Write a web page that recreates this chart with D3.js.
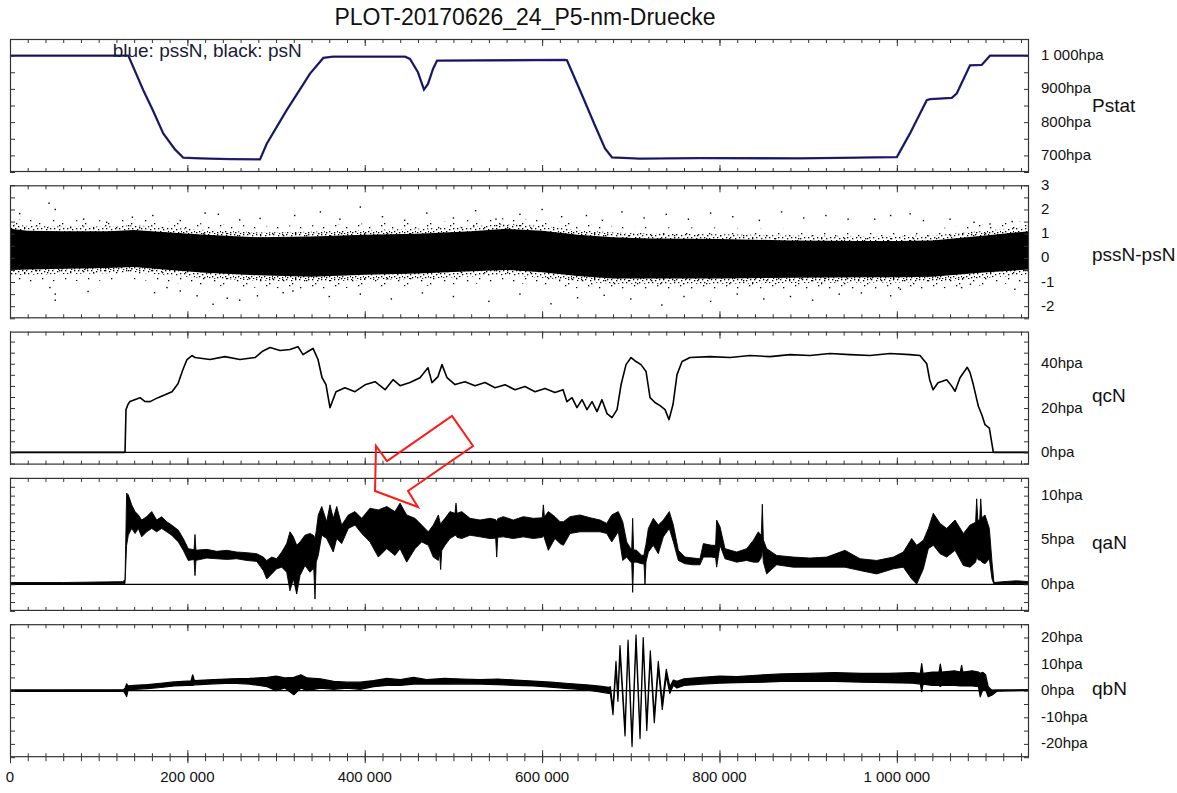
<!DOCTYPE html>
<html><head><meta charset="utf-8">
<script src="https://cdn.jsdelivr.net/npm/d3@7"></script>
<style>
body{margin:0;background:#fff}
svg{display:block}
text{font-family:"Liberation Sans",Arial,Helvetica,sans-serif}
</style>
</head><body>
<svg id="c" width="1177" height="793"></svg>
<script>
// ---------------- DATA ----------------
const title = "PLOT-20170626_24_P5-nm-Druecke";
const legendText = "blue: pssN, black: psN";
const panelNames = ["Pstat", "pssN-psN", "qcN", "qaN", "qbN"];

// x in thousands of samples
const xDomain = [0, 1149];
const xMajorTicks = [0, 200, 400, 600, 800, 1000];
const xTickLabels = ["0", "200 000", "400 000", "600 000", "800 000", "1 000 000"];
const xMinorStep = 20;

// panel 1: Pstat
const pstatTicks = [700, 800, 900, 1000];
const pstatLabels = ["700hpa", "800hpa", "900hpa", "1 000hpa"];
const pstatX = [0,133.4,150.3,161.2,172.8,186,195.4,214,248,281.9,289.5,312,338.3,353.3,364.2,445.4,451,460,466.8,471.3,477,481.5,625.8,628,642.7,659.6,670.9,678.8,710,778,890.8,1000,1014.8,1033.7,1037.4,1061.9,1067.5,1082.5,1095.7,1105,1149];
const pssN = [1000,1000,896,835,766,718,693,691,689,688,735,836,946,993,997,997,990,950,898,915,960,985,987,986,896,790,721,694,690,692,691,695,766,866,869,873,886,971,972,1000,1000];
const psN  = [1000,1000,896,835,766,718,693,691,689,688,735,836,946,993,997,997,990,950,898,915,960,985,987,986,896,790,721,694,690,692,691,695,766,866,869,873,886,971,972,1000,1000];

// panel 2: pssN-psN (dense scatter: solid core, dotted fuzz, sparse halo, outliers)
const diffTicks = [-2, -1, 0, 1, 2, 3];
const diffLabels = ["-2", "-1", "0", "1", "2", "3"];
const bandX  = [0,20,60,110,140,180,220,280,340,400,460,520,560,600,640,680,720,800,880,960,1000,1040,1094,1149];
const bandHi = [1.2,1.12,1.1,1.1,1.15,1.05,0.95,0.85,0.88,0.95,1.0,1.1,1.2,1.12,0.95,0.85,0.8,0.78,0.72,0.7,0.7,0.72,0.9,1.1];
const bandLo = [-0.5,-0.48,-0.45,-0.42,-0.38,-0.5,-0.62,-0.72,-0.78,-0.7,-0.65,-0.55,-0.5,-0.6,-0.75,-0.85,-0.85,-0.85,-0.82,-0.8,-0.8,-0.78,-0.62,-0.48];
const fuzzHi = [1.4,1.32,1.3,1.3,1.35,1.25,1.15,1.05,1.08,1.15,1.2,1.3,1.4,1.32,1.15,1.05,1.0,0.98,0.92,0.9,0.9,0.92,1.1,1.3];
const fuzzLo = [-0.72,-0.7,-0.67,-0.64,-0.6,-0.72,-0.84,-0.94,-1.0,-0.92,-0.87,-0.77,-0.72,-0.82,-0.97,-1.07,-1.07,-1.07,-1.04,-1.02,-1.02,-1.0,-0.84,-0.7];
const haloHi = [1.65,1.58,1.55,1.55,1.6,1.5,1.42,1.32,1.35,1.42,1.47,1.57,1.65,1.58,1.42,1.32,1.27,1.25,1.2,1.18,1.18,1.2,1.37,1.55];
const haloLo = [-1.02,-1.0,-0.97,-0.94,-0.9,-1.02,-1.14,-1.24,-1.3,-1.22,-1.17,-1.07,-1.02,-1.12,-1.27,-1.37,-1.37,-1.37,-1.34,-1.32,-1.32,-1.3,-1.14,-1.0];
const outX = [11,44,51,83,109,138,161,192,220,235,259,282,321,350,372,395,420,445,470,500,525,548,575,600,622,650,668,690,715,740,765,790,815,845,870,895,920,945,975,993,1015,1030,1060,1087,1105,1130,
              0,45,51,51,88,163,177,192,211,229,245,259,279,308,319,360,395,430,465,500,540,575,610,640,670,700,735,760,790,820,850,880,905,935,960,993,1004,1073,1083,1133];
const outV = [1.83,2.26,2.0,1.6,1.47,1.68,1.75,1.54,1.85,1.8,1.57,1.63,1.75,1.9,1.6,2.1,1.7,1.55,1.85,1.65,1.95,1.6,1.8,2.0,1.7,1.75,1.55,1.9,1.65,1.8,1.6,1.85,1.7,1.55,1.9,1.65,1.75,1.6,1.6,1.75,1.82,1.54,1.6,1.47,1.4,1.5,
              -0.95,-1.23,-1.5,-1.75,-1.39,-1.44,-1.23,-1.37,-1.57,-1.92,-1.67,-1.75,-1.57,-1.44,-1.37,-1.6,-1.5,-1.7,-1.45,-1.6,-1.8,-1.5,-1.9,-1.65,-1.55,-1.7,-1.95,-1.6,-1.8,-1.5,-1.7,-1.6,-1.75,-1.5,-1.45,-1.57,-1.3,-1.23,-1.09,-1.3];

// panel 3: qcN
const qcTicks = [0, 20, 40];
const qcLabels = ["0hpa", "20hpa", "40hpa"];
const qcX = [0,129.7,130.8,133,135.3,146.6,152,157.9,166.9,174.8,182.7,189.4,195,199.6,205.2,208.6,225.5,242.4,259.3,276.3,284.2,293.2,304.5,315.7,324.7,330.4,336,341.7,347.3,351.8,356.3,360.8,367.6,377.7,389,400.3,411.6,422.9,431.9,439.8,451,462.3,471.3,475.8,482.6,487.1,492.8,501.8,513,524.3,535.6,546.9,558.2,569.4,580.7,592,603.3,614.5,623.6,628,633.7,639.3,645,650.6,656.3,661.9,667.5,673.2,678.8,684.5,689,694.6,700.3,705.9,711.5,717.2,721.7,727.3,733,738.6,743.1,747.6,752.1,757.8,766.8,789.3,811.9,834.4,857,879.5,902,924.6,947.2,969.7,992.3,1014.8,1026.1,1033.7,1037,1040.8,1046.4,1056.2,1061.9,1065.6,1071.2,1079.4,1082.5,1086.2,1091.9,1095.7,1099.4,1104.3,1108.8,1149];
const qcV = [0,0,19.3,21.6,23,24.7,23,22.9,24.7,26,27.4,31,37.4,41.9,43.7,42.8,41.9,43.2,41.9,42.8,45.5,47.3,46,46.4,47.7,44.1,45.5,46.9,41.9,33.8,30.6,20.2,27.4,29.2,27.4,30.5,31.9,28.3,32.8,30.1,31.5,33.7,38.2,31.5,34.2,39.6,33.7,30.6,31.9,30.1,31.5,29.2,30.5,28.3,29.7,27.4,28.8,27,28.3,22.9,24.7,20.2,23.8,19.3,22.9,18.4,23.8,17.5,15.7,19.3,30.5,39.6,42.8,41,39.6,36.5,24.7,22.5,21.1,19.3,14.8,21.6,35.1,41,42.8,43.2,42.8,43.7,43.2,44.1,43.7,44.6,44.1,43.7,44.6,44.1,43.7,40,32.8,28.3,31.4,32.8,29.9,27.6,33.7,38.4,36,30.6,20.8,17.1,12.5,11,0,0];

// panel 4: qaN, noisy signal read as rows [x, low, high]
const qaTicks = [0, 5, 10];
const qaLabels = ["0hpa", "5hpa", "10hpa"];
const qaRows = [
 [0,0,0.2],[60,0,0.2],[127,0.05,0.3],[129.7,0.1,0.5],[131.5,4.4,10.28],[133.4,5.54,10.09],[137.2,6.3,8.96],[141,5.73,8.2],[144.7,6.3,7.82],[148.5,5.35,7.25],
 [154.1,5.92,7.63],[159.8,6.3,8.2],[165.4,5.92,7.25],[171,6.3,7.63],[176.7,5.92,7.06],[182.3,5.54,6.68],[189.8,4.78,6.11],[195.4,3.83,5.16],[201,2.69,4.02],[207.5,2.8,3.9],
 [208.6,0.98,5.62],[209.7,2.7,3.85],[221.8,2.96,3.94],[233.1,2.88,3.72],[244.4,2.81,3.83],[255.6,2.88,3.64],[266.9,2.69,3.57],[278.2,2.58,3.45],[285.6,1.55,3.07],[289.5,0.6,2.69],
 [295.1,1.17,3.07],[300.7,1.74,2.88],[306.4,1.93,3.64],[312,1.36,4.59],[315.7,-0.73,5.92],[319.5,0.6,5.35],[323.3,-1.1,4.4],[327,0.98,4.78],[332.6,2.12,5.54],[338.3,1.36,5.73],
 [342.5,1.8,5.5],[343.9,-1.67,5.16],[345.3,2.5,6.0],[347.6,3.26,7.82],[351.5,5.54,8.77],[357.1,5.16,7.06],[360.8,4.4,8.96],[364.5,3.64,7.44],[368.4,5.16,8.77],[374,4.59,6.68],
 [381.5,6.3,7.82],[389,6.68,8.2],[396.6,5.73,7.44],[405.9,4.78,8.58],[415.3,3.07,8.39],[424.8,4.02,8.77],[434.1,3.26,8.2],[439.8,4.02,9.15],[447.3,2.5,7.82],[456.7,4.02,7.44],
 [464.2,4.78,6.68],[471.7,4.4,5.92],[477.3,3.07,6.68],[483,2.69,7.82],[484.4,3.5,7.2],[485.6,1.67,6.68],[486.8,3.8,7.0],[490.5,4.4,7.44],[496.1,5.16,8.2],[501.7,5.5,8.0],
 [502.9,5.54,9.15],[504.1,5.3,8.0],[509.3,5.16,8.2],[518.7,5.54,7.44],[530,5.35,7.25],[541.2,5.16,7.44],[547.6,5.2,7.3],[548.8,3.07,7.06],[550,5.3,7.4],[556.3,5.35,7.63],
 [567.5,5.16,7.25],[578.8,5.35,7.63],[590.1,5.16,7.44],[600.2,5.3,7.5],[601.4,5.54,8.96],[602.6,5.2,7.6],[607,3.83,8.2],[614.5,5.16,7.63],[620.2,4.59,7.06],[624,4.4,7.06],
 [631.5,5.73,7.63],[642.7,5.92,7.82],[654,5.92,7.51],[665.3,5.92,7.25],[672.8,5.73,6.87],[678.5,4.78,7.82],[685.9,5.92,8.2],[690.9,2.69,7.06],[695.4,3.07,4.78],[699.9,2.5,4.02],
 [701,2.5,4.0],[702.1,-0.91,7.44],[703.2,2.5,3.9],[706.6,2.5,3.83],[712.3,2.31,3.26],[714.9,2.3,3.3],[716,0.03,4.02],[717.1,2.5,4.5],[719.8,3.64,6.3],[725.4,4.4,7.44],
 [731,3.45,6.68],[736.7,5.35,7.25],[743.4,6.3,8.2],[748,4.78,6.68],[753.6,2.69,3.83],[761.1,2.31,3.07],[770.5,2.2,2.96],[778,2.2,2.88],[781.8,3.07,4.59],[791.2,3.07,4.4],
 [795.6,3.0,4.4],[796.8,1.93,7.25],[800.6,4.4,6.49],[806.2,2.88,4.02],[819.4,2.5,3.64],[830.6,2.69,4.02],[838.2,2.5,4.97],[843.8,2.5,5.92],[847.1,3.0,5.5],[848.3,4.02,9.03],
 [849.5,2.5,5.0],[853.2,1.17,4.02],[864.5,2.2,3.26],[883.2,1.93,3.07],[902,1.93,2.96],[920.9,1.93,3.07],[941.5,1.93,3.83],[958.5,1.55,2.88],[977.3,1.17,2.69],[996,1.74,3.07],
 [1007.3,1.93,3.64],[1016.7,0.6,5.16],[1022.4,0.03,4.4],[1029.9,1.74,4.97],[1035.5,4.02,6.3],[1041.1,4.4,8.01],[1048.7,3.45,6.87],[1056.2,3.07,6.3],[1065.6,3.83,7.25],[1075,2.12,5.73],
 [1082.5,1.93,6.68],[1088.8,2.5,7.0],[1090,3.07,9.64],[1091.3,2.8,7.2],[1093.4,2.7,7.3],[1094.6,2.69,9.64],[1095.8,2.5,7.5],[1099.4,2.31,7.82],[1104.3,2.88,6.3],[1107.3,0.6,2.5],
 [1109.5,0,0.2],[1120,0.05,0.3],[1135,0.1,0.4],[1149,0.1,0.3]
];

// panel 5: qbN, noisy signal read as rows [x, low, high]
const qbTicks = [-20, -10, 0, 10, 20];
const qbLabels = ["-20hpa", "-10hpa", "0hpa", "10hpa", "20hpa"];
const qbRows = [
 [0,-0.3,0.3],[128,-0.2,0.4],[130,-1.2,1.0],[131.5,-2.2,2.6],[133,0,1.8],[140,0.5,2.0],[155,0.8,2.3],[170,1.2,2.8],[185,1.8,3.3],[200,2.0,3.6],
 [204,2.0,3.6],[206,2.0,6.0],[208,2.2,3.8],[230,2.6,4.2],[250,2.8,4.5],[270,2.5,4.6],[290,1.5,5.0],[300,0,5.5],[310,1.0,4.8],[320,-1.5,5.0],
 [328,1.0,6.0],[335,0,4.8],[350,1.0,4.5],[365,0.5,3.5],[380,1.0,3.2],[395,0.5,3.2],[410,1.5,3.8],[425,2.0,4.6],[440,2.0,4.2],[455,2.5,5.0],
 [470,2.5,4.2],[490,2.5,4.6],[510,2.6,4.4],[530,2.5,4.2],[550,2.3,4.4],[570,2.0,4.0],[590,1.8,3.6],[610,1.3,3.2],[630,0.8,2.7],[650,0.3,2.2],
 [665,-0.5,1.7],[675,-1.0,1.3],[677,-1,1.5],[679.9,-9,-6.5],[683.3,8.5,11],[685.5,-4,-1.5],[687.8,14.5,17],[693.5,-17,-14.5],[696.9,16.5,19],[701.4,-21,-18.5],
 [705.9,18.5,21],[710.4,-18,-15.5],[714,17.5,20],[718,-15,-12.5],[722,12.5,15],[726.5,-12,-9.5],[731,8.5,11],[735.5,-7,-4.5],[740,5.5,8],[744,-1,1.5],
 [748,2,4],[752,1,3.5],[760,2,4.5],[780,2.5,5],[800,2.8,5.5],[820,3,5.3],[850,3.2,6],[870,3.5,6.3],[900,3.5,6.5],[930,3.5,6.8],
 [960,3.2,6.5],[990,3,6.5],[1018,2.8,6.8],[1026.5,2.5,6.5],[1028,-0.4,10.2],[1029.5,2.5,6.5],[1040,2,7],[1047.5,2,7],[1049,1.6,10],[1050.5,2,7],
 [1065,2,7.5],[1071.5,1.8,7],[1073,1.8,9.5],[1074.5,1.8,7],[1085,1.8,7.5],[1092,1.5,7],[1094,-2.3,6.5],[1097,0.5,6.9],[1100,0.5,6.0],[1103,-2.3,1.5],
 [1107,-1.7,0.2],[1113,-0.2,0.3],[1149,0.1,0.4]
];

// annotation arrow, in (x [thousands], qaN value) coordinates
const arrowX = [411.6, 412.7, 425.1, 498.4, 522.1, 448.8, 460];
const arrowV = [10.52, 15.6, 13.9, 19.0, 15.6, 10.52, 8.72];

// ---------------- LAYOUT ----------------
const L = 10, R = 1029, PH = 133;
const tops = [39, 185.3, 331.6, 477.9, 624.2];
const domains = [[650, 1050], [-2.5, 3], [-5.5, 54.5], [-3, 12], [-25, 25]];
const minorSteps = [50, 0.5, 5, 1, 5];
const nameOffsets = [73, 75.7, 70.5, 71.5, 71];
const tickSets = [pstatTicks, diffTicks, qcTicks, qaTicks, qbTicks];
const labelSets = [pstatLabels, diffLabels, qcLabels, qaLabels, qbLabels];

const svg = d3.select("#c");
const x = d3.scaleLinear().domain(xDomain).range([L, R]);
const ys = domains.map((d, i) => d3.scaleLinear().domain(d).range([tops[i] + PH, tops[i]]));

// patterns for the scatter fuzz
const defs = svg.append("defs");
const pDense = defs.append("pattern").attr("id", "dense").attr("patternUnits", "userSpaceOnUse").attr("width", 13).attr("height", 9);
[[0,0],[5,1],[9,0],[2,3],[7,4],[11,3],[4,6],[9,7],[1,7],[12,6],[6,8]].forEach(p => pDense.append("rect").attr("x", p[0]).attr("y", p[1]).attr("width", 1.3).attr("height", 1.3).attr("fill", "#000"));
const pSparse = defs.append("pattern").attr("id", "sparse").attr("patternUnits", "userSpaceOnUse").attr("width", 23).attr("height", 15);
[[1,2],[13,0],[19,8],[7,10],[16,13]].forEach(p => pSparse.append("rect").attr("x", p[0]).attr("y", p[1]).attr("width", 1.3).attr("height", 1.3).attr("fill", "#000"));

const minorVals = (d, s) => d3.range(Math.ceil(d[0] / s - 1e-9) * s, d[1] + 1e-9, s);
const xMinor = d3.range(xDomain[0], xDomain[1] + 1e-9, xMinorStep);

function styleAxis(g) {
  g.select(".domain").remove();
  g.selectAll(".tick line").attr("stroke", "#333").attr("stroke-width", 1);
  g.selectAll(".tick text").remove();
}

ys.forEach((y, i) => {
  const g = svg.append("g");
  const top = tops[i], bot = tops[i] + PH;
  const clipId = "clip" + i;
  defs.append("clipPath").attr("id", clipId).append("rect").attr("x", L).attr("y", top).attr("width", R - L).attr("height", PH);
  const plot = g.append("g").attr("clip-path", `url(#${clipId})`);

  if (i === 0) {
    const line = d3.line().x((d, k) => x(pstatX[k])).y(d => y(d));
    plot.append("path").attr("d", line(pssN)).attr("fill", "none").attr("stroke", "#2a2a9a").attr("stroke-width", 2.3);
    plot.append("path").attr("d", line(psN)).attr("fill", "none").attr("stroke", "#10102a").attr("stroke-width", 1.1).attr("opacity", 0.8);
  } else if (i === 1) {
    const area = (hi, lo) => d3.area().x((d, k) => x(bandX[k])).y0((d, k) => y(lo[k])).y1((d, k) => y(hi[k]))(bandX);
    plot.append("path").attr("d", area(haloHi, haloLo)).attr("fill", "url(#sparse)");
    plot.append("path").attr("d", area(fuzzHi, fuzzLo)).attr("fill", "url(#dense)");
    plot.append("path").attr("d", area(bandHi, bandLo)).attr("fill", "#000");
    plot.selectAll("rect.o").data(outX).enter().append("rect").attr("class", "o")
      .attr("x", d => x(d) - 0.7).attr("y", (d, k) => y(outV[k]) - 0.7).attr("width", 1.4).attr("height", 1.4).attr("fill", "#000");
  } else {
    plot.append("line").attr("x1", L).attr("x2", R).attr("y1", y(0)).attr("y2", y(0)).attr("stroke", "#000").attr("stroke-width", 1.2);
    if (i === 2) {
      const line = d3.line().x((d, k) => x(qcX[k])).y(d => y(d));
      plot.append("path").attr("d", line(qcV)).attr("fill", "none").attr("stroke", "#000").attr("stroke-width", 1.6).attr("stroke-linejoin", "round");
    } else {
      const rows = i === 3 ? qaRows : qbRows;
      const area = d3.area().x(d => x(d[0])).y0(d => y(d[1])).y1(d => y(d[2]));
      plot.append("path").attr("d", area(rows)).attr("fill", "#000").attr("stroke", "#000").attr("stroke-width", i === 3 ? 0.9 : 1.2).attr("stroke-linejoin", "round");
    }
  }

  // frame
  g.append("rect").attr("x", L + 0.5).attr("y", top + 0.5).attr("width", R - L - 1).attr("height", PH - 1)
    .attr("fill", "none").attr("stroke", "#333").attr("stroke-width", 1.2);

  // x ticks (inward, top and bottom)
  g.append("g").attr("transform", `translate(0,${top})`).call(d3.axisBottom(x).tickValues(xMinor).tickSize(4)).call(styleAxis);
  g.append("g").attr("transform", `translate(0,${top})`).call(d3.axisBottom(x).tickValues(xMajorTicks).tickSize(7)).call(styleAxis);
  g.append("g").attr("transform", `translate(0,${bot})`).call(d3.axisTop(x).tickValues(xMinor).tickSize(4)).call(styleAxis);
  g.append("g").attr("transform", `translate(0,${bot})`).call(d3.axisTop(x).tickValues(xMajorTicks).tickSize(7)).call(styleAxis);

  // y ticks (inward, left and right)
  const ym = minorVals(domains[i], minorSteps[i]);
  g.append("g").attr("transform", `translate(${L},0)`).call(d3.axisRight(y).tickValues(ym).tickSize(5)).call(styleAxis);
  g.append("g").attr("transform", `translate(${R},0)`).call(d3.axisLeft(y).tickValues(ym).tickSize(5)).call(styleAxis);

  // right labels
  g.selectAll("text.tl").data(tickSets[i]).enter().append("text").attr("class", "tl")
    .attr("x", R + 12).attr("y", d => y(d)).attr("dy", "0.3em")
    .attr("font-size", 15).attr("fill", "#111").text((d, k) => labelSets[i][k]);
  g.append("text").attr("x", 1092).attr("y", top + nameOffsets[i])
    .attr("font-size", 19).attr("fill", "#111").text(panelNames[i]);
});

// bottom x axis (outward ticks + labels)
const bot5 = tops[4] + PH;
svg.append("g").attr("transform", `translate(0,${bot5})`).call(d3.axisBottom(x).tickValues(xMinor).tickSize(4)).call(styleAxis);
svg.append("g").attr("transform", `translate(0,${bot5})`).call(d3.axisBottom(x).tickValues(xMajorTicks).tickSize(6)).call(styleAxis);
svg.selectAll("text.xl").data(xMajorTicks).enter().append("text").attr("class", "xl")
  .attr("x", d => x(d)).attr("y", 782).attr("text-anchor", "middle")
  .attr("font-size", 15).attr("fill", "#111").text((d, k) => xTickLabels[k]);

// title and legend
svg.append("text").attr("x", 525).attr("y", 25).attr("text-anchor", "middle").attr("font-size", 23).attr("fill", "#111").text(title);
svg.append("text").attr("x", 112.7).attr("y", 56.7).attr("font-size", 19).attr("fill", "#1a1a3a").text(legendText);

// red annotation arrow
const ay = ys[3];
const arrowPts = arrowX.map((d, k) => [x(d), ay(arrowV[k])]);
svg.append("path").attr("d", d3.line()(arrowPts) + "Z").attr("fill", "none").attr("stroke", "#ff1a1a").attr("stroke-width", 2).attr("stroke-linejoin", "miter");
</script>
</body></html>
